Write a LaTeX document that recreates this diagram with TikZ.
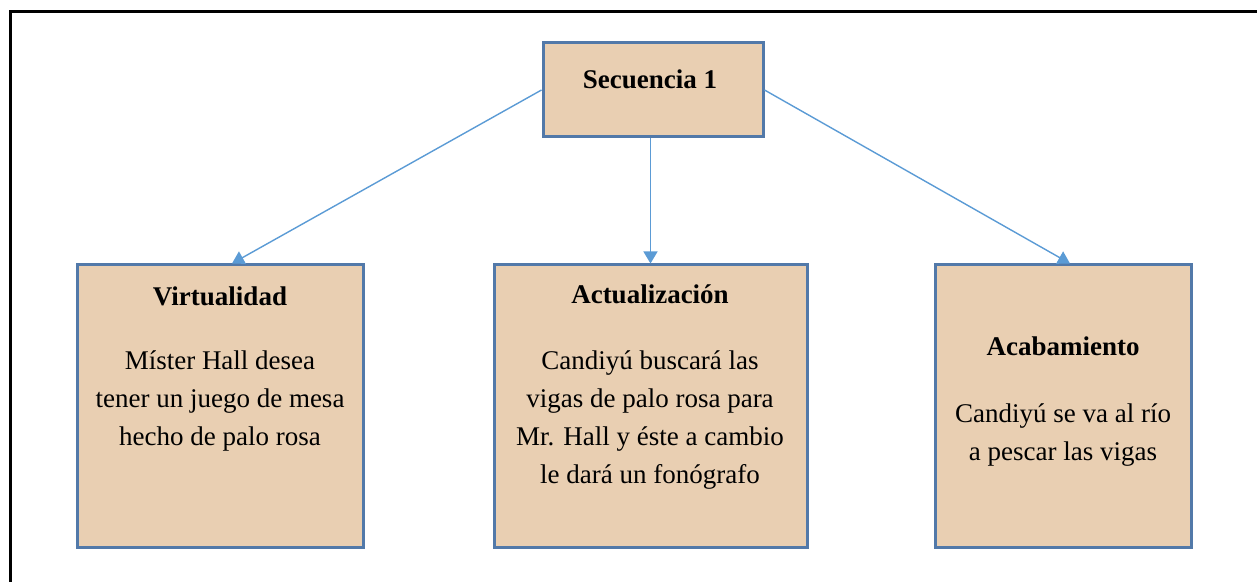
\documentclass[tikz,border=0pt]{standalone}
\usepackage{fontspec}
\setmainfont{Liberation Serif}
\usetikzlibrary{arrows.meta}
\definecolor{wood}{HTML}{E9CFB2}
\definecolor{boxline}{HTML}{5279A9}
\definecolor{linkblue}{HTML}{5B9BD5}
\newcommand{\boxtext}{\fontsize{13.5}{19}\selectfont}
\tikzset{
  seqbox/.style={draw=boxline, fill=wood, line width=1.5pt, inner sep=0pt},
  ttl/.style={font=\boxtext\bfseries, anchor=base, inner sep=0pt},
  % base of a multi-line text is its last line
  txt/.style={font=\boxtext, anchor=base, align=center, inner sep=0pt},
  link/.style={draw=linkblue, line width=0.7pt, -{Triangle[width=7pt,length=6pt]}}
}

\begin{document}
\begin{tikzpicture}[x=0.5pt,y=-0.5pt]
\useasboundingbox (0,0) rectangle (1257,582);
% frame
\draw[line width=1.5pt] (10,600) -- (10,12) -- (1270,12);
% boxes
\node[seqbox, minimum width=110pt, minimum height=47pt] (sec) at (653,90) {};
\node[seqbox, minimum width=143pt, minimum height=141pt] (virt) at (220,406) {};
\node[seqbox, minimum width=156.5pt, minimum height=141pt] (act) at (650.5,406) {};
\node[seqbox, minimum width=128pt, minimum height=141pt] (acab) at (1063,406) {};
% texts
\node[ttl] (secT) at (650,89) {Secuencia 1};
\node[ttl] (virtT) at (220,306) {Virtualidad};
\node[txt] (virtB) at (220,445) {Míster Hall desea\\tener un juego de mesa\\hecho de palo rosa};
\node[ttl] (actT) at (650,304) {Actualización};
\node[txt] (actB) at (650,483) {Candiyú buscará las\\vigas de palo rosa para\\Mr. Hall y éste a cambio\\le dará un fonógrafo};
\node[ttl] (acabT) at (1063,356) {Acabamiento};
\node[txt] (acabB) at (1063,460) {Candiyú se va al río\\a pescar las vigas};
% arrows
\draw[link] (sec.west) -- ([xshift=6pt]virt.north);
\draw[link] (act.north |- sec.south) -- (act.north);
\draw[link] (sec.east) -- ([xshift=3.5pt]acab.north);
\end{tikzpicture}
\end{document}
